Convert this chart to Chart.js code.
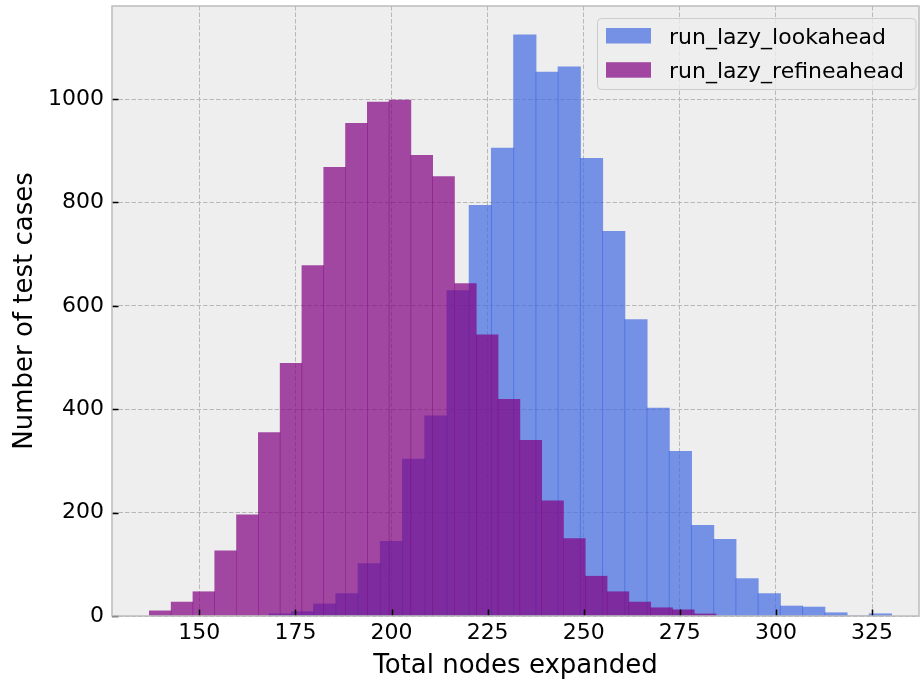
<!DOCTYPE html>
<html>
<head>
<meta charset="utf-8">
<script src="https://cdn.jsdelivr.net/npm/chart.js@4.4.1/dist/chart.umd.min.js"></script>
<style>
  html, body { margin: 0; padding: 0; background: #ffffff; }
  #wrap { width: 920px; height: 685px; }
</style>
</head>
<body>
<div id="wrap"><canvas id="hist" width="920" height="685"></canvas></div>
<script>
const seriesNames = ['run_lazy_lookahead', 'run_lazy_refineahead'];

// bin midpoints (total nodes expanded) and counts
const lookaheadBins = [171.09, 176.87, 182.65, 188.43, 194.21, 199.99, 205.77, 211.55, 217.33, 223.11,
  228.89, 234.67, 240.45, 246.23, 252.01, 257.79, 263.57, 269.35, 275.13, 280.91,
  286.69, 292.47, 298.25, 304.03, 309.81, 315.59, 321.37, 327.15];
const lookaheadCounts = [4, 8, 23, 43, 101, 144, 303, 387, 629, 794,
  905, 1124, 1052, 1062, 885, 744, 573, 402, 318, 175,
  148, 72, 43, 19, 17, 6, 0, 4];

const refineaheadBins = [139.84, 145.51, 151.18, 156.85, 162.52, 168.19, 173.86, 179.53, 185.20, 190.87,
  196.54, 202.21, 207.88, 213.55, 219.22, 224.89, 230.56, 236.23, 241.90, 247.57,
  253.24, 258.91, 264.58, 270.25, 275.92, 281.59];
const refineaheadCounts = [10, 27, 47, 126, 196, 355, 489, 678, 868, 953,
  994, 998, 891, 850, 643, 544, 419, 340, 223, 150,
  77, 47, 27, 16, 12, 4];

const xTicks = [150, 175, 200, 225, 250, 275, 300, 325];
const yTicks = [0, 200, 400, 600, 800, 1000];

const blueFill = 'rgba(65, 105, 225, 0.7)';
const purpleFill = 'rgba(128, 0, 128, 0.7)';

Chart.defaults.font.family = "'DejaVu Sans', sans-serif";
Chart.defaults.color = '#000000';

const toPoints = (xs, ys) => xs.map((x, i) => ({ x: x, y: ys[i] }));
const setTicks = list => axis => { axis.ticks = list.map(v => ({ value: v })); };

// grey plot face like matplotlib bmh
const plotFace = {
    id: 'plotFace',
    beforeDraw(chart) {
        const { ctx, chartArea: a } = chart;
        ctx.save();
        ctx.fillStyle = '#eeeeee';
        ctx.fillRect(a.left, a.top, a.right - a.left, a.bottom - a.top);
        ctx.restore();
    }
};

// inward tick marks + light spines
const frame = {
    id: 'frame',
    afterDatasetsDraw(chart) {
        const { ctx, chartArea: a, scales } = chart;
        ctx.save();
        ctx.strokeStyle = '#000000';
        ctx.lineWidth = 1.5;
        ctx.beginPath();
        xTicks.forEach(v => {
            const px = Math.round(scales.x.getPixelForValue(v)) + 0.5;
            ctx.moveTo(px, a.bottom);
            ctx.lineTo(px, a.bottom - 6.5);
        });
        yTicks.forEach(v => {
            const py = Math.round(scales.y.getPixelForValue(v)) + 0.5;
            ctx.moveTo(a.left, py);
            ctx.lineTo(a.left + 6.5, py);
        });
        ctx.stroke();
        ctx.strokeStyle = '#bcbcbc';
        ctx.lineWidth = 1.5;
        ctx.strokeRect(a.left, a.top, a.right - a.left, a.bottom - a.top);
        ctx.restore();
    }
};

// matplotlib style legend box in the top right corner
const boxLegend = {
    id: 'boxLegend',
    afterDraw(chart) {
        const ctx = chart.ctx;
        const x0 = 597.5, y0 = 18.5, w = 318.5, h = 71, r = 4;
        ctx.save();
        ctx.beginPath();
        ctx.moveTo(x0 + r, y0);
        ctx.arcTo(x0 + w, y0, x0 + w, y0 + h, r);
        ctx.arcTo(x0 + w, y0 + h, x0, y0 + h, r);
        ctx.arcTo(x0, y0 + h, x0, y0, r);
        ctx.arcTo(x0, y0, x0 + w, y0, r);
        ctx.closePath();
        ctx.fillStyle = 'rgba(238, 238, 238, 0.8)';
        ctx.fill();
        ctx.strokeStyle = '#cccccc';
        ctx.lineWidth = 1;
        ctx.stroke();

        ctx.font = "22px 'DejaVu Sans'";
        ctx.textBaseline = 'alphabetic';
        ctx.textAlign = 'left';
        chart.data.datasets.forEach((ds, i) => {
            const rowY = 28 + i * 34.2;
            ctx.fillStyle = ds.backgroundColor;
            ctx.fillRect(606, rowY, 45, 15.5);
            ctx.fillStyle = '#000000';
            ctx.fillText(ds.label, 669, rowY + 16);
        });
        ctx.restore();
    }
};

new Chart(document.getElementById('hist'), {
    type: 'bar',
    data: {
        datasets: [
            {
                label: seriesNames[0],
                data: toPoints(lookaheadBins, lookaheadCounts),
                xAxisID: 'x',
                order: 1,
                grouped: false,
                backgroundColor: blueFill,
                borderWidth: 0,
                inflateAmount: 0.5,
                barPercentage: 1,
                categoryPercentage: 1
            },
            {
                label: seriesNames[1],
                data: toPoints(refineaheadBins, refineaheadCounts),
                xAxisID: 'x2',
                order: 0,
                grouped: false,
                backgroundColor: purpleFill,
                borderWidth: 0,
                inflateAmount: 0.3,
                barPercentage: 1,
                categoryPercentage: 1
            }
        ]
    },
    options: {
        responsive: false,
        animation: false,
        devicePixelRatio: 1,
        layout: { padding: { top: 6, right: 1, left: 0, bottom: 0 } },
        plugins: {
            legend: { display: false },
            tooltip: { enabled: false }
        },
        scales: {
            x: {
                type: 'linear',
                position: 'bottom',
                min: 127.3,
                max: 337.2,
                offset: false,
                afterBuildTicks: setTicks(xTicks),
                afterFit: axis => { axis.height = 69; },
                grid: { offset: false, color: '#b8b8b8', lineWidth: 1, drawTicks: false },
                border: { display: false, dash: [4.5, 2] },
                ticks: { padding: 4, font: { size: 22 }, color: '#000000', callback: v => String(v) },
                title: {
                    display: true,
                    text: 'Total nodes expanded',
                    font: { size: 26 },
                    padding: { top: 0, bottom: 3 }
                }
            },
            x2: {
                type: 'linear',
                display: false,
                min: 127.3,
                max: 337.2,
                offset: false,
                afterBuildTicks: setTicks(xTicks),
                grid: { offset: false }
            },
            y: {
                type: 'linear',
                min: 0,
                max: 1180,
                afterBuildTicks: setTicks(yTicks),
                afterFit: axis => {
                    axis.width = 112;
                    axis.paddingTop = 0;
                    axis.paddingBottom = 0;
                },
                grid: { color: '#b8b8b8', lineWidth: 1, drawTicks: false },
                border: { display: false, dash: [4.5, 2] },
                ticks: { padding: 8, font: { size: 22 }, color: '#000000', callback: v => String(v) },
                title: {
                    display: true,
                    text: 'Number of test cases',
                    font: { size: 26 },
                    padding: { top: 10, bottom: 0 }
                }
            }
        }
    },
    plugins: [plotFace, frame, boxLegend]
});
</script>
</body>
</html>
